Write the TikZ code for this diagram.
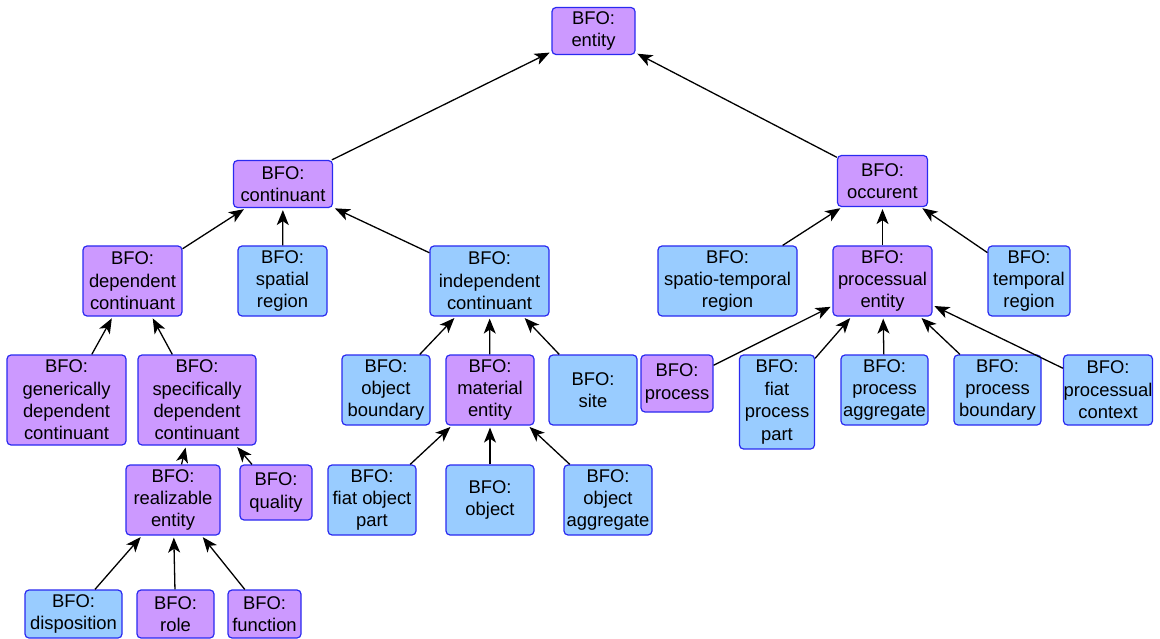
\documentclass[tikz,border=0pt]{standalone}
\usepackage{fontspec}
\setmainfont{Liberation Sans}
\usetikzlibrary{arrows.meta}
\definecolor{classfill}{HTML}{CC99FF}
\definecolor{leaffill}{HTML}{99CCFF}
\definecolor{boxline}{HTML}{2A2AF0}
\begin{document}
\begin{tikzpicture}[x=1pt,y=-1pt,
  cbox/.style={draw=boxline, line width=1.2pt, rounded corners=4pt, inner sep=0pt,
    align=center, font=\fontsize{18.4}{22.4}\selectfont},
  pnode/.style={cbox, fill=classfill},
  bnode/.style={cbox, fill=leaffill},
  isa/.style={-{Stealth[length=15pt,width=12pt,inset=4pt]}, line width=1.3pt, shorten >=2pt}]
\useasboundingbox (0,0) rectangle (1160,639);

% top levels
\node[pnode, minimum width=83pt, minimum height=47pt] (entity) at (593.5,31) {BFO:\\entity};
\node[pnode, minimum width=99pt, minimum height=47pt] (cont) at (283,184) {BFO:\\continuant};
\node[pnode, minimum width=90pt, minimum height=51pt] (occ) at (882.5,181) {BFO:\\occurent};

% second row
\node[pnode, minimum width=99pt, minimum height=70pt] (dep) at (132.5,281) {BFO:\\dependent\\continuant};
\node[bnode, minimum width=89pt, minimum height=70pt] (spat) at (282.5,281) {BFO:\\spatial\\region};
\node[bnode, minimum width=119pt, minimum height=70pt] (indep) at (489.5,281) {BFO:\\independent\\continuant};
\node[bnode, minimum width=139pt, minimum height=70pt] (streg) at (727.5,281) {BFO:\\spatio-temporal\\region};
\node[pnode, minimum width=99pt, minimum height=70pt] (pent) at (882.5,281) {BFO:\\processual\\entity};
\node[bnode, minimum width=82pt, minimum height=70pt] (treg) at (1029,281) {BFO:\\temporal\\region};

% third row
\node[pnode, minimum width=119pt, minimum height=90pt] (gdc) at (66.5,400) {BFO:\\generically\\dependent\\continuant};
\node[pnode, minimum width=118pt, minimum height=90pt] (sdc) at (197,400) {BFO:\\specifically\\dependent\\continuant};
\node[bnode, minimum width=88pt, minimum height=70pt] (obound) at (386,390) {BFO:\\object\\boundary};
\node[pnode, minimum width=88pt, minimum height=70pt] (mat) at (490,390) {BFO:\\material\\entity};
\node[bnode, minimum width=88pt, minimum height=70pt] (site) at (593,390) {BFO:\\site};
\node[pnode, minimum width=72pt, minimum height=57pt] (proc) at (677,383.5) {BFO:\\process};
\node[bnode, minimum width=75pt, minimum height=94pt] (fpp) at (777,402) {BFO:\\fiat\\process\\part};
\node[bnode, minimum width=87pt, minimum height=70pt] (pagg) at (884.5,390) {BFO:\\process\\aggregate};
\node[bnode, minimum width=87pt, minimum height=70pt] (pbound) at (997.5,390) {BFO:\\process\\boundary};
\node[bnode, minimum width=87pt, minimum height=70pt] (pctx) at (1108,390) {BFO:\\processual\\context};

% fourth row
\node[pnode, minimum width=94pt, minimum height=70pt] (real) at (173,500) {BFO:\\realizable\\entity};
\node[pnode, minimum width=72pt, minimum height=55pt] (qual) at (276,492.5) {BFO:\\quality};
\node[bnode, minimum width=88pt, minimum height=70pt] (fop) at (372,500) {BFO:\\fiat object\\part};
\node[bnode, minimum width=88pt, minimum height=70pt] (obj) at (490,500) {BFO:\\object};
\node[bnode, minimum width=88pt, minimum height=70pt] (oagg) at (608,500) {BFO:\\object\\aggregate};

% bottom row
\node[bnode, minimum width=97pt, minimum height=48pt] (disp) at (73.5,614) {BFO:\\disposition};
\node[pnode, minimum width=77pt, minimum height=48pt] (role) at (175.5,614) {BFO:\\role};
\node[pnode, minimum width=73pt, minimum height=48pt] (func) at (264.5,614) {BFO:\\function};

% is-a links, child to parent
\draw[isa] (cont) -- (entity);
\draw[isa] (occ) -- (entity);
\draw[isa] (dep) -- (cont);
\draw[isa] (spat) -- (cont);
\draw[isa] (indep) -- (cont);
\draw[isa] (streg) -- (occ);
\draw[isa] (pent) -- (occ);
\draw[isa] (treg) -- (occ);
\draw[isa] (gdc) -- (dep);
\draw[isa] (sdc) -- (dep);
\draw[isa] (obound) -- (indep);
\draw[isa] (mat) -- (indep);
\draw[isa] (site) -- (indep);
\draw[isa] (proc) -- (pent);
\draw[isa] (fpp) -- (pent);
\draw[isa] (pagg) -- (pent);
\draw[isa] (pbound) -- (pent);
\draw[isa] (pctx) -- (pent);
\draw[isa] (real) -- (sdc);
\draw[isa] (qual) -- (sdc);
\draw[isa] (fop) -- (mat);
\draw[isa] (obj) -- (mat);
\draw[isa] (oagg) -- (mat);
\draw[isa] (disp) -- (real);
\draw[isa] (role) -- (real);
\draw[isa] (func) -- (real);
\end{tikzpicture}
\end{document}
